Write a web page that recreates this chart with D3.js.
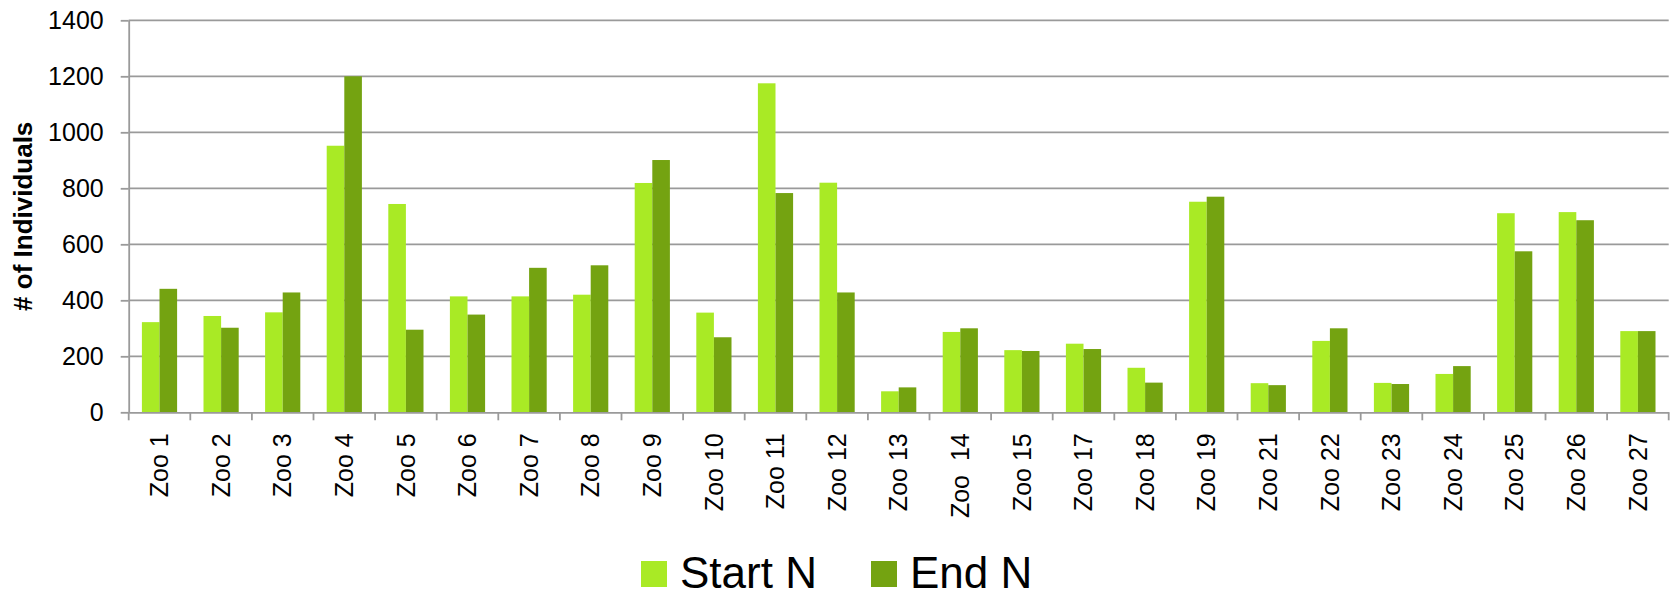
<!DOCTYPE html>
<html>
<head>
<meta charset="utf-8">
<script src="https://cdn.jsdelivr.net/npm/d3@7"></script>
<style>
  body { margin: 0; background: #fff; }
  text { font-family: "Century Gothic", "URW Gothic", "Liberation Sans", sans-serif; fill: #000; }
</style>
</head>
<body>
<svg id="chart" width="1674" height="596"></svg>
<script>
// data
var zoos = ['Zoo 1', 'Zoo 2', 'Zoo 3', 'Zoo 4', 'Zoo 5', 'Zoo 6', 'Zoo 7', 'Zoo 8', 'Zoo 9',
  'Zoo 10', 'Zoo 11', 'Zoo 12', 'Zoo 13', 'Zoo  14', 'Zoo 15', 'Zoo 17', 'Zoo 18', 'Zoo 19',
  'Zoo 21', 'Zoo 22', 'Zoo 23', 'Zoo 24', 'Zoo 25', 'Zoo 26', 'Zoo 27'];
var startN = [322, 344, 357, 952, 744, 414, 414, 420, 819, 356, 1175, 820, 75, 287, 222, 245,
  159, 752, 104, 255, 105, 137, 711, 715, 290];
var endN = [441, 302, 428, 1200, 295, 349, 516, 525, 901, 268, 783, 428, 89, 300, 219, 226,
  106, 770, 97, 300, 101, 165, 575, 686, 290];
var seriesNames = ['Start N', 'End N'];
var seriesColors = ['#a9ea25', '#74a311'];
var yTicks = [0, 200, 400, 600, 800, 1000, 1200, 1400];

var svg = d3.select('#chart');
var margin = { left: 128.7, right: 1668.7, top: 20.3, bottom: 412.3 };

var x = d3.scaleBand().domain(zoos).range([margin.left, margin.right]).padding(0);
var xs = d3.scaleBand().domain(seriesNames).range([0, x.bandwidth()])
  .paddingInner(0).paddingOuter(0.75);
var y = d3.scaleLinear().domain([0, 1400]).range([margin.bottom, margin.top]);
var color = d3.scaleOrdinal().domain(seriesNames).range(seriesColors);

var gridColor = '#9a9a9a';

// gridlines
svg.append('g').selectAll('line')
  .data(yTicks.slice(1))
  .enter().append('line')
  .attr('x1', margin.left).attr('x2', margin.right)
  .attr('y1', function (d) { return y(d); })
  .attr('y2', function (d) { return y(d); })
  .attr('stroke', gridColor).attr('stroke-width', 1.8);

// bars
var rows = zoos.map(function (z, i) {
  return { zoo: z, values: [{ s: 'Start N', v: startN[i] }, { s: 'End N', v: endN[i] }] };
});

svg.append('g').selectAll('g')
  .data(rows)
  .enter().append('g')
  .attr('transform', function (d) { return 'translate(' + x(d.zoo) + ',0)'; })
  .selectAll('rect')
  .data(function (d) { return d.values; })
  .enter().append('rect')
  .attr('x', function (d) { return xs(d.s); })
  .attr('width', xs.bandwidth())
  .attr('y', function (d) { return y(d.v); })
  .attr('height', function (d) { return y(0) - y(d.v); })
  .attr('fill', function (d) { return color(d.s); });

// y axis
var yAxis = svg.append('g')
  .attr('transform', 'translate(' + margin.left + ',0)')
  .call(d3.axisLeft(y).tickValues(yTicks).tickFormat(d3.format('d'))
    .tickSize(8).tickSizeOuter(0).tickPadding(17));
yAxis.select('.domain').attr('stroke', gridColor).attr('stroke-width', 1.8);
yAxis.selectAll('.tick line').attr('stroke', gridColor).attr('stroke-width', 1.8);
yAxis.selectAll('.tick text')
  .style('font-size', '25px')
  .attr('font-family', null)
  .attr('dy', '0.34em');

// x axis
var xAxis = svg.append('g')
  .attr('transform', 'translate(0,' + margin.bottom + ')')
  .call(d3.axisBottom(x).tickSize(0).tickSizeOuter(0));
xAxis.select('.domain').attr('stroke', gridColor).attr('stroke-width', 1.8);
xAxis.selectAll('.tick text')
  .style('font-size', '25px')
  .style('white-space', 'pre')
  .attr('font-family', null)
  .attr('transform', 'rotate(-90)')
  .attr('text-anchor', 'end')
  .attr('x', -21)
  .attr('y', 0)
  .attr('dy', '0.35em');

// category separators
svg.append('g').selectAll('line')
  .data(zoos.concat(['end']))
  .enter().append('line')
  .attr('x1', function (d) { return d === 'end' ? margin.right : x(d); })
  .attr('x2', function (d) { return d === 'end' ? margin.right : x(d); })
  .attr('y1', margin.bottom).attr('y2', margin.bottom + 8)
  .attr('stroke', gridColor).attr('stroke-width', 1.8);

// y title
svg.append('text')
  .attr('transform', 'translate(32,' + (margin.top + margin.bottom) / 2 + ') rotate(-90)')
  .attr('text-anchor', 'middle')
  .style('font-size', '26px')
  .style('font-weight', 'bold')
  .text('# of Individuals');

// legend
var legendX = [641, 871];
var legend = svg.append('g').selectAll('g')
  .data(seriesNames)
  .enter().append('g')
  .attr('transform', function (d, i) { return 'translate(' + legendX[i] + ',561)'; });
legend.append('rect')
  .attr('width', 26).attr('height', 26)
  .attr('fill', function (d) { return color(d); });
legend.append('text')
  .attr('x', 39).attr('y', 27)
  .style('font-size', '44px')
  .text(function (d) { return d; });
</script>
</body>
</html>
